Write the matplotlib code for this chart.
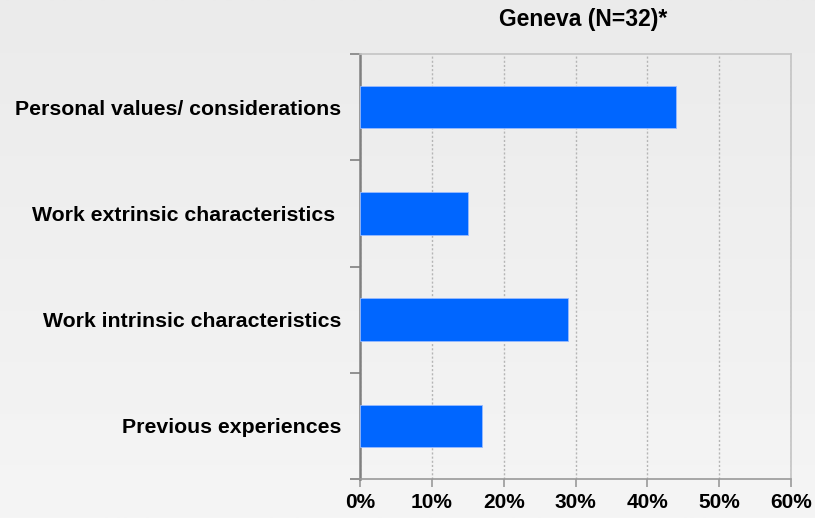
import numpy as np
import matplotlib
matplotlib.use("Agg")
import matplotlib.pyplot as plt

plt.rcParams['font.family'] = ['Liberation Sans', 'DejaVu Sans']

# data
categories = ["Previous experiences", "Work intrinsic characteristics",
              "Work extrinsic characteristics ", "Personal values/ considerations"]
values = [17, 29, 15, 44]
xticks = [0, 10, 20, 30, 40, 50, 60]
title = "Geneva (N=32)*"

fig = plt.figure(figsize=(8.15, 5.18), dpi=100)

# background gradient (light grey, slightly darker on top)
bg = fig.add_axes([0, 0, 1, 1], zorder=-10)
grad = np.linspace(0, 1, 256).reshape(-1, 1)
bg.imshow(grad, aspect='auto', cmap=matplotlib.colors.LinearSegmentedColormap.from_list(
    'bg', ['#ebebeb', '#f5f5f5']), extent=[0, 1, 0, 1], origin='upper')
bg.axis('off')

ax = fig.add_axes([360/815, 1-479/518, (791-360)/815, (479-54)/518])
ax.patch.set_alpha(0)

y = np.arange(len(categories))
ax.barh(y, values, height=0.4, color='#0066ff', edgecolor='#99bbff', linewidth=0.6, zorder=3)

ax.set_xlim(0, 60)
ax.set_ylim(-0.5, len(categories) - 0.5)
ax.set_xticks(xticks)
ax.set_xticklabels([f"{t}%" for t in xticks], fontsize=15, fontweight='bold')
ax.set_yticks(y)
ax.set_yticklabels(categories, fontsize=15.3, fontweight='bold')
ax.set_yticks(np.arange(-0.5, len(categories)), minor=True)
ax.tick_params(axis='y', which='major', length=0, pad=13.5)
ax.tick_params(axis='y', which='minor', length=7, color='#808080', width=1.2)
ax.tick_params(axis='x', length=6, color='#999999', width=1.2, pad=4)

ax.grid(axis='x', linestyle=(0, (1.5, 1.5)), color='#b5b5b5', linewidth=1, zorder=0)
ax.set_axisbelow(True)

ax.spines['left'].set_color('#808080')
ax.spines['left'].set_linewidth(1.8)
ax.spines['bottom'].set_color('#999999')
ax.spines['bottom'].set_linewidth(1.2)
for s in ['top', 'right']:
    ax.spines[s].set_color('#c4c4c4')
    ax.spines[s].set_linewidth(1.2)

ax.set_title(title, fontsize=16.5, fontweight='bold', x=0.517, pad=20.5)

fig.savefig("out.png", dpi=100)
